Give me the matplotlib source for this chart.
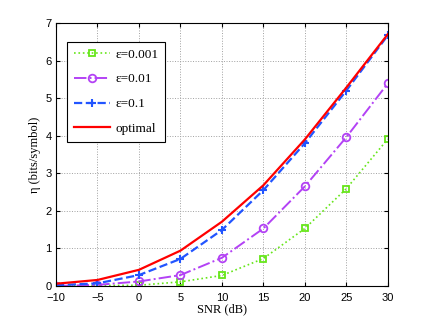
import numpy as np
import matplotlib
matplotlib.use("Agg")
import matplotlib.pyplot as plt

snr_db = [-10, -5, 0, 5, 10, 15, 20, 25, 30]

eta_eps_0001 = [0.0, 0.01, 0.02, 0.11, 0.28, 0.73, 1.53, 2.59, 3.91]
eta_eps_001 = [0.0, 0.03, 0.12, 0.29, 0.75, 1.53, 2.65, 3.96, 5.39]
eta_eps_01 = [0.02, 0.07, 0.29, 0.72, 1.49, 2.55, 3.8, 5.2, 6.67]
eta_optimal = [0.06, 0.16, 0.43, 0.94, 1.71, 2.68, 3.9, 5.28, 6.7]

serif = ["Liberation Serif", "DejaVu Serif"]
sans = ["Liberation Sans", "DejaVu Sans"]

fig = plt.figure(figsize=(4.29, 3.23), dpi=100)
ax = fig.add_axes([0.1305, 0.1146, 0.7735, 0.8144])

ax.plot(snr_db, eta_eps_0001, linestyle=":", color="#66e619", lw=1.2,
        marker="s", ms=5, mfc="none", mew=1.3, label="ε=0.001")
ax.plot(snr_db, eta_eps_001, linestyle="-.", color="#b342f5", lw=1.4,
        marker="o", ms=5.5, mfc="none", mew=1.3, label="ε=0.01")
ax.plot(snr_db, eta_eps_01, linestyle="--", color="#2255ff", lw=1.6,
        marker="+", ms=6, mew=1.5, label="ε=0.1")
ax.plot(snr_db, eta_optimal, linestyle="-", color="#ff0000", lw=1.6,
        label="optimal")

ax.set_xlim(-10, 30)
ax.set_ylim(0, 7)
ax.set_xticks(np.arange(-10, 31, 5))
ax.set_yticks(np.arange(0, 8, 1))
ax.grid(True, linestyle=":", color="#a0a0a0", lw=0.7)
ax.tick_params(direction="in", top=True, right=True, labelsize=8, length=3)
ax.tick_params(axis="x", pad=5)  # matlab puts the x labels a bit lower
ax.tick_params(axis="y", pad=3)
for lab in ax.get_xticklabels() + ax.get_yticklabels():
    lab.set_family(sans)
for sp in ax.spines.values():
    sp.set_linewidth(0.8)

ax.set_xlabel("SNR (dB)", family=serif, fontsize=9, labelpad=0)
ax.set_ylabel("η (bits/symbol)", family=serif, fontsize=9, labelpad=3)

leg = ax.legend(loc="upper left", bbox_to_anchor=(0.033, 0.928), borderaxespad=0,
                prop={"family": serif, "size": 9.5},
                fancybox=False, edgecolor="black", framealpha=1, handlelength=2.8,
                handletextpad=0.4, labelspacing=0.95, borderpad=0.5)
leg.get_frame().set_linewidth(0.8)

fig.savefig("out.png", dpi=100)
